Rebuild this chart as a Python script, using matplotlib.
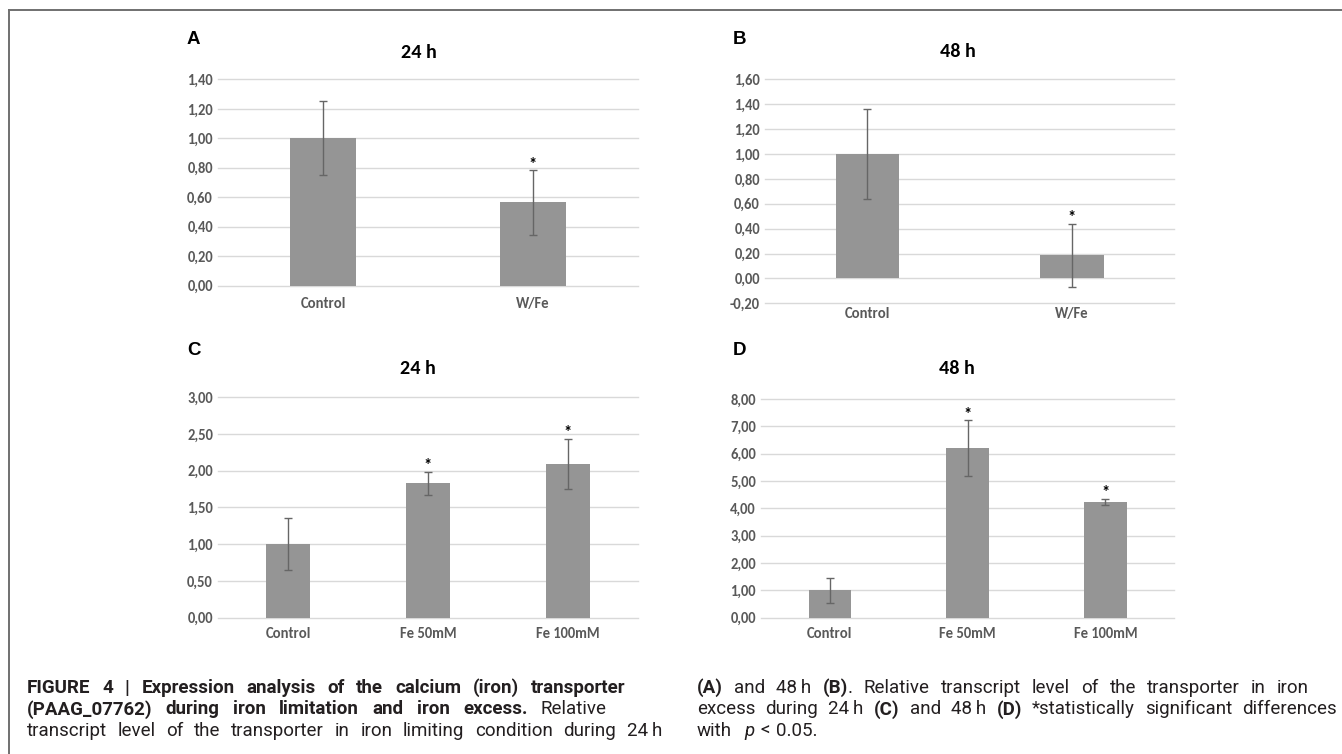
import matplotlib
matplotlib.use("Agg")
import matplotlib.pyplot as plt
from matplotlib import font_manager
from matplotlib.lines import Line2D
from matplotlib.transforms import IdentityTransform

# ---------------- data ----------------
cats_ab = ["Control", "W/Fe"]
cats_cd = ["Control", "Fe 50mM", "Fe 100mM"]

mean_a = [1.00, 0.565]
err_a = [0.25, 0.22]
sig_a = [False, True]

mean_b = [1.00, 0.185]
err_b = [0.36, 0.255]
sig_b = [False, True]

mean_c = [1.00, 1.825, 2.095]
err_c = [0.355, 0.16, 0.34]
sig_c = [False, True, True]

mean_d = [1.00, 6.20, 4.25]
err_d = [0.46, 1.02, 0.11]
sig_d = [False, True, True]

ticks_a = [0.0, 0.2, 0.4, 0.6, 0.8, 1.0, 1.2, 1.4]
ticks_b = [-0.2, 0.0, 0.2, 0.4, 0.6, 0.8, 1.0, 1.2, 1.4, 1.6]
ticks_c = [0.0, 0.5, 1.0, 1.5, 2.0, 2.5, 3.0]
ticks_d = [0, 1, 2, 3, 4, 5, 6, 7, 8]

titles = ["24 h", "48 h", "24 h", "48 h"]
letters = ["A", "B", "C", "D"]

# ---------------- fonts ----------------
avail = {f.name for f in font_manager.fontManager.ttflist}
def pick(*names):
    for n in names:
        if n in avail:
            return n
    return "DejaVu Sans"

chart_font = pick("Carlito", "Lato", "Open Sans")
cap_font = pick("Roboto", "Liberation Sans")
letter_font = pick("Liberation Sans", "Arial", "DejaVu Sans")

W, H = 1342, 754
fig = plt.figure(figsize=(W / 100, H / 100), dpi=100)
fig.patch.set_facecolor("white")

BAR = "#959595"
ERR = "#666666"
GRID = "#d9d9d9"
LBL = "#595959"

def px_axes(x0, x1, ytop, ybot):
    return fig.add_axes([x0 / W, 1 - ybot / H, (x1 - x0) / W, (ybot - ytop) / H])

panels = [
    dict(box=(218, 638, 79.3, 285.7), cats=cats_ab, mean=mean_a, err=err_a, sig=sig_a,
         ticks=ticks_a, tx=0.479, lpad=8, letter=(187, 39), ttl_y=52),
    dict(box=(765, 1174.3, 79.3, 303.3), cats=cats_ab, mean=mean_b, err=err_b, sig=sig_b,
         ticks=ticks_b, tx=0.472, lpad=3, letter=(733, 39), ttl_y=51.7),
    dict(box=(218, 638, 397, 617.7), cats=cats_cd, mean=mean_c, err=err_c, sig=sig_c,
         ticks=ticks_c, tx=0.476, lpad=7, letter=(187, 351), ttl_y=368.3),
    dict(box=(761, 1174.3, 399, 617.7), cats=cats_cd, mean=mean_d, err=err_d, sig=sig_d,
         ticks=ticks_d, tx=0.474, lpad=7, letter=(733, 351), ttl_y=368.3),
]

for i, p in enumerate(panels):
    x0, x1, yt, yb = p["box"]
    ax = px_axes(x0, x1, yt, yb)
    n = len(p["cats"])
    xs = list(range(n))
    ax.bar(xs, p["mean"], width=0.31, color=BAR, zorder=2)
    ax.errorbar(xs, p["mean"], yerr=p["err"], fmt="none", ecolor=ERR,
                elinewidth=1.0, capsize=3, capthick=1.0, zorder=3)
    for xi, m, e, s in zip(xs, p["mean"], p["err"], p["sig"]):
        if s:
            ax.annotate("*", xy=(xi, m + e), xytext=(0, -2), textcoords="offset points",
                        ha="center", va="bottom", fontsize=12, fontweight="bold",
                        family=chart_font, color="black", zorder=4)
    ax.set_xlim(-0.5, n - 0.5)
    ax.set_ylim(p["ticks"][0], p["ticks"][-1])
    ax.set_yticks(p["ticks"])
    ax.set_yticklabels([f"{v:.2f}".replace(".", ",") for v in p["ticks"]])
    ax.set_xticks(xs)
    ax.set_xticklabels(p["cats"])
    for lab in ax.get_yticklabels() + ax.get_xticklabels():
        lab.set_fontfamily(chart_font)
        lab.set_fontweight("bold")
        lab.set_fontsize(10.5)
        lab.set_color(LBL)
    ax.tick_params(axis="y", length=0, pad=3.6)
    ax.tick_params(axis="x", length=0, pad=p["lpad"])
    for sp in ax.spines.values():
        sp.set_visible(False)
    ax.yaxis.grid(True, color=GRID, lw=1.0)
    ax.set_axisbelow(True)
    for gl in ax.get_ygridlines():
        gl.set_clip_on(False)
    ax.set_facecolor("none")
    # title
    fig.text(x0 / W + p["tx"] * (x1 - x0) / W, 1 - p["ttl_y"] / H, titles[i],
             ha="center", va="center", fontsize=14.5, fontweight="bold",
             family=chart_font, color="black")
    lx, ly = p["letter"]
    fig.text(lx / W, 1 - ly / H, letters[i], ha="left", va="center",
             fontsize=13.5, fontweight="bold", family=letter_font, color="black")

# ---------------- border ----------------
fig.add_artist(Line2D([8.5 / W, 1], [1 - 9.5 / H, 1 - 9.5 / H], color="#707070", lw=1.4))
fig.add_artist(Line2D([8.5 / W, 8.5 / W], [0, 1 - 9.5 / H], color="#707070", lw=1.4))

# ---------------- caption ----------------
B_, N_, I_ = "bold", "normal", "italic"
def words(text, style):
    return [[(w, style)] for w in text.split(" ")]

left_lines = [
    words("FIGURE 4 | Expression analysis of the calcium (iron) transporter", B_),
    words("(PAAG_07762) during iron limitation and iron excess.", B_) + words("Relative", N_),
    words("transcript level of the transporter in iron limiting condition during", N_) + [[("24\u2009h", N_)]],
]
right_lines = [
    [[("(A)", B_)], [("and", N_)], [("48\u2009h", N_)], [("(B)", B_), (".", N_)]]
    + words("Relative transcript level of the transporter in iron", N_),
    words("excess during", N_) + [[("24\u2009h", N_)], [("(C)", B_)], [("and", N_)], [("48\u2009h", N_)],
                                  [("(D)", B_)]] + words("*statistically significant differences", N_),
    [[("with", N_)], [("", N_)], [("p", I_)], [("<", N_)], [("0.05.", N_)]],
]
left_right_edges = [625, 607, 662]
right_right_edges = [1309, 1337, None]

renderer = fig.canvas.get_renderer()
CAP_SIZE = 13.5
CAP_COLOR = "#231f20"

def draw_line(wlist, x0, x1, ybase, size):
    measured = []
    for word in wlist:
        pieces = []
        wsum = 0.0
        for txt, st in word:
            t = fig.text(0, 0, txt, fontsize=size,
                         family=[cap_font, "DejaVu Sans"],
                         fontweight="bold" if st == "bold" else "normal",
                         fontstyle="italic" if st == "italic" else "normal",
                         color=CAP_COLOR, transform=IdentityTransform(),
                         ha="left", va="baseline")
            wd = t.get_window_extent(renderer).width if txt else 0.0
            pieces.append((t, wd))
            wsum += wd
        measured.append((pieces, wsum))
    sp = fig.text(0, 0, "a b", fontsize=size, family=[cap_font])
    sp2 = fig.text(0, 0, "ab", fontsize=size, family=[cap_font])
    space = sp.get_window_extent(renderer).width - sp2.get_window_extent(renderer).width
    sp.remove(); sp2.remove()
    total = sum(m[1] for m in measured)
    nw = len(measured)
    if x1 is not None and nw > 1:
        gap = (x1 - x0 - total) / (nw - 1)
        if gap < space * 0.8:
            # too tight: shrink font for this line and retry
            for pieces, _ in measured:
                for t, _w in pieces:
                    t.remove()
            return draw_line(wlist, x0, x1, ybase, size * 0.97)
    else:
        gap = space * 1.3
    x = x0
    for pieces, wsum in measured:
        for t, wd in pieces:
            t.set_position((x, H - ybase))
            x += wd
        x += gap

bases = [693, 714.5, 736]
for k, ln in enumerate(left_lines):
    draw_line(ln, 27, left_right_edges[k], bases[k], CAP_SIZE)
for k, ln in enumerate(right_lines):
    draw_line(ln, 697, right_right_edges[k], bases[k], CAP_SIZE)

fig.savefig("out.png", dpi=100, facecolor="white")
